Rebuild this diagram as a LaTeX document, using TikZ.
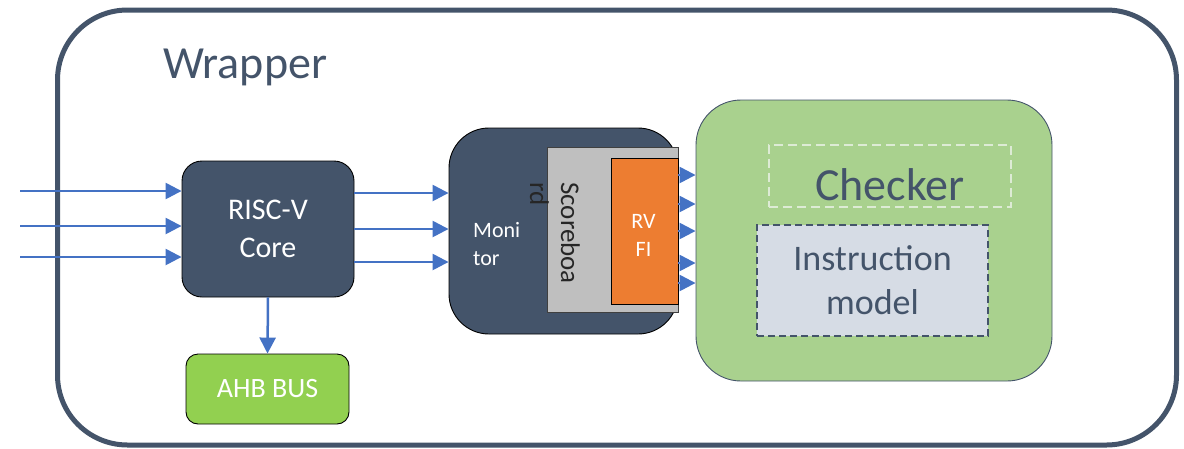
\documentclass[tikz,border=0pt]{standalone}
\usepackage{fontspec}
\setmainfont{Carlito}
\usetikzlibrary{arrows.meta,calc}
\definecolor{slate}{HTML}{44546A}
\definecolor{wire}{HTML}{4472C4}
\definecolor{busgreen}{HTML}{92D050}
\definecolor{chkgreen}{HTML}{A9D18E}
\definecolor{sbgray}{HTML}{BFBFBF}
\definecolor{rvorange}{HTML}{ED7D31}
\definecolor{modelfill}{HTML}{D6DCE5}
\definecolor{paledash}{HTML}{DDEBD5}
\tikzset{
  block/.style={draw=black, line width=0.9pt, inner sep=0pt, align=center},
  wirearrow/.style={draw=wire, line width=2.5pt,
    -{Triangle[length=16pt,width=16pt]}},
  fs/.style 2 args={font=\fontsize{#1}{#2}\selectfont}
}
\begin{document}
\begin{tikzpicture}[x=1pt,y=-1pt]
\useasboundingbox (0,0) rectangle (1184,448);

% outer wrapper
\node[draw=slate, line width=5pt, rounded corners=70pt, inner sep=0pt,
  minimum width=1119pt, minimum height=435pt] (wrapper) at (617,227.5) {};
\node[anchor=base west, text=slate, fs={46}{55}, inner sep=0pt] (wraplabel)
  at (163,78) {Wrapper};

% core and bus
\node[block, fill=slate, text=white, rounded corners=20pt,
  minimum width=172pt, minimum height=136pt, fs={30}{38}] (core)
  at (268,229) {RISC-V\\Core};
\node[block, fill=busgreen, text=white, rounded corners=12pt,
  minimum width=163pt, minimum height=70pt, fs={28}{34}] (ahb)
  at (267.5,389) {AHB BUS};

% monitor with scoreboard and RVFI
\node[block, fill=slate, rounded corners=40pt,
  minimum width=229pt, minimum height=206pt] (mon) at (563.5,231) {};
\node[anchor=base west, text=white, align=left, inner sep=0pt, fs={22}{28}]
  (monlabel) at (473,265) {Moni\\tor};
\node[draw=black!75, line width=0.9pt, fill=sbgray, inner sep=0pt,
  minimum width=131pt, minimum height=165pt] (sb) at (612.5,229.5) {};
\node[rotate=-90, anchor=north west, align=left, inner sep=0pt,
  text=black!85, fs={27}{31}] (sblabel) at (580,182) {Scoreboa\\rd};
\node[block, fill=rvorange, minimum width=67pt,
  minimum height=146pt] (rvfi) at (644.5,231) {};
\node[text=white, align=center, inner sep=0pt, fs={22}{28}] (rvfilabel)
  at (643.5,235) {RV\\FI};

% checker
\node[draw=slate, line width=0.9pt, fill=chkgreen, rounded corners=45pt,
  minimum width=356pt, minimum height=281pt] (chk) at (874,240.5) {};
\node[draw=paledash, line width=1.3pt, dash pattern=on 9pt off 5pt,
  inner sep=0pt, minimum width=242pt, minimum height=62pt] (chkframe)
  at (890,176) {};
\node[anchor=base, text=slate, fs={46}{55}, inner sep=0pt] (chklabel)
  at (890,200) {Checker};
\node[draw=slate, line width=1.1pt, dash pattern=on 7pt off 4pt,
  fill=modelfill, text=slate, inner sep=0pt, align=center,
  minimum width=231pt, minimum height=111pt, fs={36}{44}] (model)
  at (872.5,280.5) {Instruction\\model};

% inputs into the core
\coordinate (in1) at (20,191);
\coordinate (in2) at (20,226);
\coordinate (in3) at (20,257);
\foreach \i in {1,2,3}
  \draw[wirearrow] (in\i) -- (in\i -| core.west);

% core to monitor
\foreach \dy in {-36,0,33}
  \draw[wirearrow] ($(core.east)+(0,\dy)$) -- ($(core.east -| mon.west)+(0,\dy)$);

% core to bus
\draw[wirearrow] (core.south) -- (ahb.north);

% RVFI to checker
\foreach \dy in {-56,-27,0,32,52}
  \draw[wirearrow] ($(rvfi.east)+(0,\dy)$) -- ($(rvfi.east -| chk.west)+(0,\dy)$);
\end{tikzpicture}
\end{document}
